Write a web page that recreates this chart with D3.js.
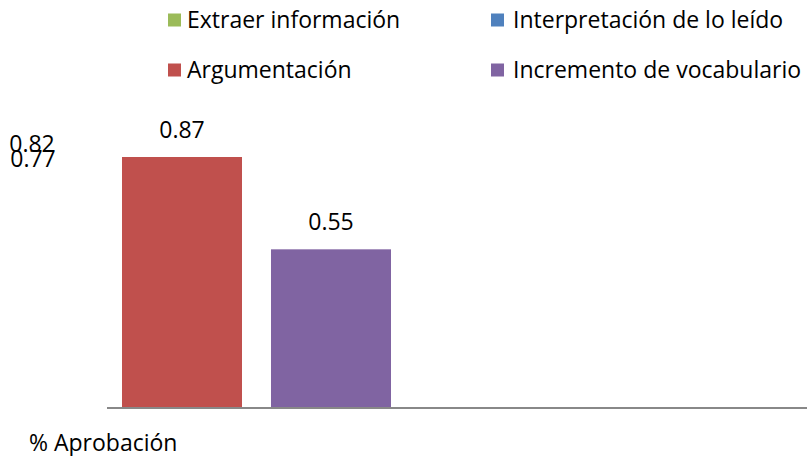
<!DOCTYPE html>
<html><head><meta charset="utf-8">
<script src="https://cdn.jsdelivr.net/npm/d3@7"></script>
<style>body{margin:0;background:#fff;} text{font-family:"Open Sans", sans-serif; fill:#000;}</style>
</head><body>
<svg id="c" width="807" height="456"></svg>
<script>
const category = "% Aprobación";
const series = ["Extraer información", "Interpretación de lo leído", "Argumentación", "Incremento de vocabulario"];
const values = [0.82, 0.77, 0.87, 0.55];
const colors = ["#9BBB59", "#4F81BD", "#C0504D", "#8064A2"];

const svg = d3.select("#c");
const plotLeft = 107, plotRight = 807, baseY = 408;
const FS = 23;

const y = d3.scaleLinear().domain([0, 1]).range([baseY, baseY - 288.5]);
const x = d3.scaleBand().domain(series).range([-176, 391]).paddingInner(0.1946).paddingOuter(0);

svg.append("defs").append("clipPath").attr("id", "plotclip")
  .append("rect").attr("x", plotLeft).attr("y", 0).attr("width", plotRight - plotLeft).attr("height", baseY);

const data = series.map((s, i) => ({s, v: values[i], c: colors[i]}));

svg.append("g").attr("clip-path", "url(#plotclip)")
  .selectAll("rect").data(data).join("rect")
  .attr("x", d => x(d.s)).attr("width", x.bandwidth())
  .attr("y", d => y(d.v)).attr("height", d => baseY - y(d.v))
  .attr("fill", d => d.c);

svg.append("line").attr("x1", plotLeft).attr("x2", plotRight)
  .attr("y1", baseY).attr("y2", baseY).attr("stroke", "#888").attr("stroke-width", 2);

svg.append("g").selectAll("text").data(data).join("text")
  .attr("x", d => Math.max(x(d.s) + x.bandwidth() / 2, 32))
  .attr("y", d => y(d.v) - 19)
  .attr("text-anchor", "middle")
  .attr("font-size", FS)
  .text(d => d.v.toFixed(2));

svg.append("text").attr("x", 29).attr("y", 451).attr("font-size", FS).text(category);

const legPos = [[168, 20, 19], [491, 20, 22], [168, 70, 19], [491, 70, 22]];
const lg = svg.append("g").selectAll("g").data(data).join("g")
  .attr("transform", (d, i) => `translate(${legPos[i][0]},${legPos[i][1]})`);
lg.append("rect").attr("x", 0).attr("y", -6.5).attr("width", 13).attr("height", 13).attr("fill", d => d.c);
lg.append("text").attr("x", (d, i) => legPos[i][2]).attr("y", 7.8).attr("font-size", FS).text(d => d.s);
</script>
</body></html>
